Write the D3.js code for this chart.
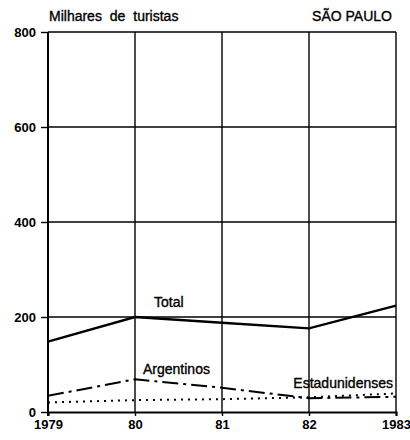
<!DOCTYPE html>
<html><head><meta charset="utf-8">
<script src="https://cdn.jsdelivr.net/npm/d3@7"></script>
<style>body{margin:0;background:#fff}svg{display:block}</style>
</head><body>
<script>
const years = ["1979","80","81","82","1983"];
const total = [148, 200, 188, 176, 224];
const argentinos = [34, 69, 51, 29, 32];
const estadunidenses = [20, 25, 27, 31, 39];
const yTicks = [0, 200, 400, 600, 800];

const W = 410, H = 440;
const m = {left: 48, right: 14, top: 32, bottom: 28};
const font = "'Liberation Sans Narrow','Arial Narrow','Liberation Sans',sans-serif";
const svg = d3.select("body").append("svg").attr("width", W).attr("height", H);

const x = d3.scalePoint().domain(years).range([m.left, W - m.right]);
const y = d3.scaleLinear().domain([0, 800]).range([H - m.bottom, m.top]);

// grid
svg.append("g").selectAll("line").data(yTicks.slice(1)).join("line")
  .attr("x1", m.left).attr("x2", W - m.right)
  .attr("y1", d => y(d)).attr("y2", d => y(d))
  .attr("stroke", "#000").attr("stroke-width", 1.4);
svg.append("g").selectAll("line").data(years.slice(1)).join("line")
  .attr("x1", d => x(d)).attr("x2", d => x(d))
  .attr("y1", y(0)).attr("y2", y(800))
  .attr("stroke", "#000").attr("stroke-width", 1.4);

// axes
const yAxis = svg.append("g").attr("transform", `translate(${m.left},0)`)
  .call(d3.axisLeft(y).tickValues(yTicks).tickSize(7).tickPadding(5));
const xAxis = svg.append("g").attr("transform", `translate(0,${y(0)})`)
  .call(d3.axisBottom(x).tickSize(4).tickPadding(4));
[yAxis, xAxis].forEach(a => {
  a.select(".domain").attr("stroke", "#000").attr("stroke-width", 2);
  a.selectAll(".tick line").attr("stroke", "#000").attr("stroke-width", 1.4);
  a.selectAll("text").attr("fill", "#000").style("font-family", font)
    .style("font-size", "13px").style("font-weight", "bold");
});
yAxis.select(".domain").attr("d", `M0,${y(0)+4}V${y(800)}`);

const line = d3.line().x((d, i) => x(years[i])).y(d => y(d));
svg.append("path").datum(total).attr("d", line).attr("fill", "none")
  .attr("stroke", "#000").attr("stroke-width", 2.4);
svg.append("path").datum(argentinos).attr("d", line).attr("fill", "none")
  .attr("stroke", "#000").attr("stroke-width", 2).attr("stroke-dasharray", "16,5,3,5");
svg.append("path").datum(estadunidenses).attr("d", line).attr("fill", "none")
  .attr("stroke", "#000").attr("stroke-width", 2).attr("stroke-dasharray", "2,5");

const txt = (t, xx, yy, anchor, size) => svg.append("text").text(t)
  .attr("x", xx).attr("y", yy).attr("text-anchor", anchor || "start")
  .style("font-family", font).style("font-size", (size || 14) + "px")
  .attr("stroke", "#000").attr("stroke-width", 0.35).attr("fill", "#000");

txt("Milhares de turistas", 49, 21, "start", 14).style("word-spacing", "4px");
txt("SÃO PAULO", 392, 21, "end", 14);
txt("Total", 154, 307, "start", 14);
txt("Argentinos", 143, 374, "start", 14);
txt("Estadunidenses", 393, 388, "end", 14);
</script>
</body></html>
